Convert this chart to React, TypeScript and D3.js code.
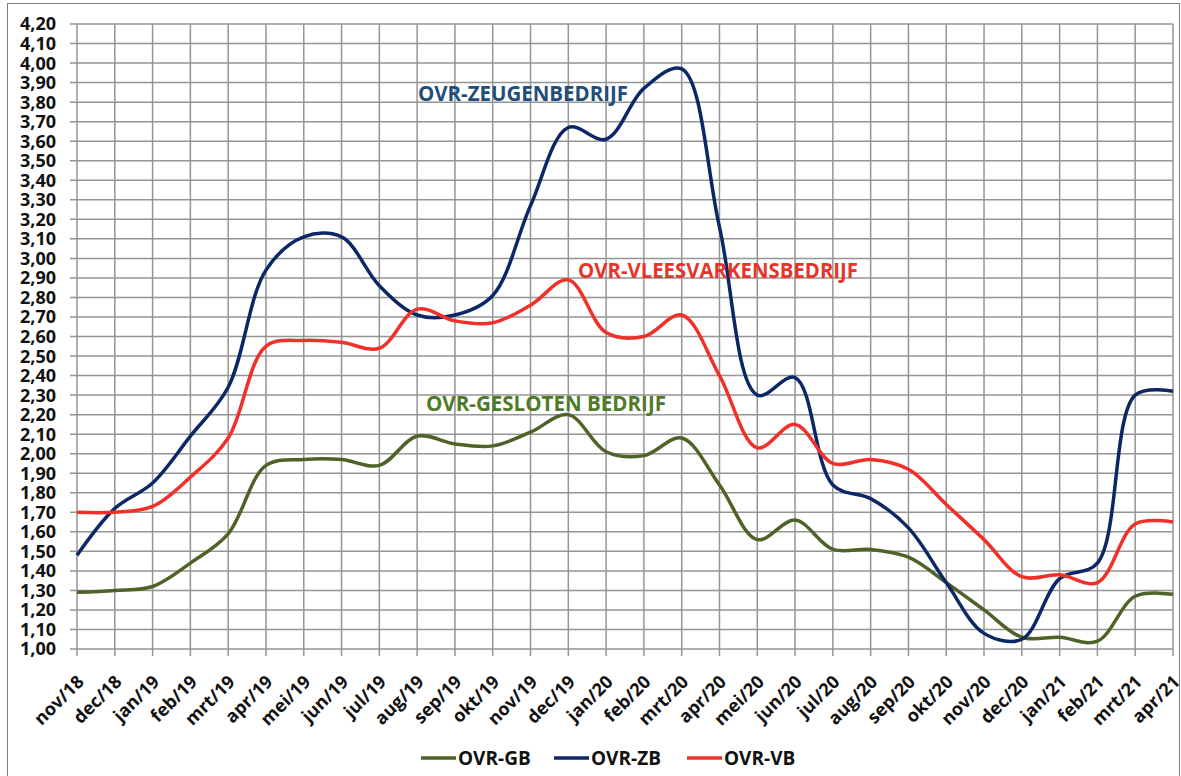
import React from 'react'
import * as d3 from 'd3'

const MONTHS = [
  'nov/18', 'dec/18', 'jan/19', 'feb/19', 'mrt/19', 'apr/19', 'mei/19', 'jun/19', 'jul/19', 'aug/19',
  'sep/19', 'okt/19', 'nov/19', 'dec/19', 'jan/20', 'feb/20', 'mrt/20', 'apr/20', 'mei/20', 'jun/20',
  'jul/20', 'aug/20', 'sep/20', 'okt/20', 'nov/20', 'dec/20', 'jan/21', 'feb/21', 'mrt/21', 'apr/21',
]

const OVR_GB = [
  1.29, 1.30, 1.32, 1.44, 1.59, 1.94, 1.97, 1.97, 1.94, 2.09,
  2.05, 2.04, 2.11, 2.20, 2.01, 1.99, 2.08, 1.84, 1.56, 1.66,
  1.51, 1.51, 1.47, 1.34, 1.20, 1.06, 1.06, 1.04, 1.27, 1.28,
]

const OVR_ZB = [
  1.48, 1.72, 1.85, 2.09, 2.34, 2.94, 3.11, 3.11, 2.86, 2.71,
  2.71, 2.81, 3.27, 3.67, 3.61, 3.87, 3.97, 3.16, 2.30, 2.39,
  1.84, 1.77, 1.62, 1.34, 1.08, 1.05, 1.36, 1.44, 2.30, 2.32,
]

const OVR_VB = [
  1.70, 1.70, 1.73, 1.88, 2.08, 2.55, 2.58, 2.57, 2.54, 2.74,
  2.68, 2.67, 2.76, 2.89, 2.62, 2.60, 2.71, 2.40, 2.03, 2.15,
  1.95, 1.97, 1.92, 1.74, 1.56, 1.37, 1.38, 1.34, 1.64, 1.65,
]

const Y_TICKS = d3.range(10, 43).map(v => v / 10)

const SERIES = [
  { name: 'OVR-GB', values: OVR_GB, color: '#4f6228' },
  { name: 'OVR-ZB', values: OVR_ZB, color: '#0c2766' },
  { name: 'OVR-VB', values: OVR_VB, color: '#f2302a' },
]

const W = 1181
const H = 776
const FONT = '"Open Sans", Lato, sans-serif'

export default function App() {
  const x = d3.scalePoint<string>().domain(MONTHS).range([77, 1173])
  const y = d3.scaleLinear().domain([1, 4.2]).range([649, 24])

  const line = d3.line<number>()
    .x((_, i) => x(MONTHS[i]) as number)
    .y(d => y(d))
    .curve(d3.curveCatmullRom.alpha(0.5))

  const fmt = (v: number) => v.toFixed(2).replace('.', ',')

  return (
    <svg width={W} height={H} style={{ position: 'absolute', left: 0, top: 0, background: '#fff' }}>
      <rect x={7.5} y={3.5} width={1172} height={790} fill="#fff" stroke="#7f7f7f" strokeWidth={1} />

      {/* horizontal grid */}
      {Y_TICKS.map(t => (
        <line key={t} x1={70} x2={1173} y1={y(t)} y2={y(t)} stroke="#959595" strokeWidth={1.5} />
      ))}
      {/* vertical grid */}
      {MONTHS.map(m => (
        <line key={m} x1={x(m)} x2={x(m)} y1={y(4.2)} y2={656} stroke="#959595" strokeWidth={1.5} />
      ))}

      {/* y labels */}
      {Y_TICKS.map(t => (
        <text key={t} x={56} y={y(t)} dy="0.36em" textAnchor="end" fontFamily={FONT}
          fontWeight="bold" fontSize={18} fill="#111">
          {fmt(t)}
        </text>
      ))}

      {/* x labels */}
      {MONTHS.map(m => (
        <text key={m} transform={`translate(${(x(m) as number) - 1},${674}) rotate(-45)`}
          textAnchor="end" dy="0.7em" fontFamily={FONT} fontWeight="bold" fontSize={18} fill="#111">
          {m}
        </text>
      ))}

      {/* series */}
      {SERIES.map(s => (
        <path key={s.name} d={line(s.values) ?? ''} fill="none" stroke={s.color} strokeWidth={3.5}
          strokeLinejoin="round" />
      ))}

      {/* annotations */}
      <text x={418} y={101} fontFamily={FONT} fontWeight="bold" fontSize={21} fill="#1f4e79"
        textLength={210} lengthAdjust="spacingAndGlyphs">OVR-ZEUGENBEDRIJF</text>
      <text x={578} y={278} fontFamily={FONT} fontWeight="bold" fontSize={21} fill="#e8332a"
        textLength={280} lengthAdjust="spacingAndGlyphs">OVR-VLEESVARKENSBEDRIJF</text>
      <text x={426} y={411} fontFamily={FONT} fontWeight="bold" fontSize={21} fill="#4f7a28"
        textLength={240} lengthAdjust="spacingAndGlyphs">OVR-GESLOTEN BEDRIJF</text>

      {/* legend */}
      {SERIES.map((s, i) => {
        const lx = 421 + i * 133
        return (
          <g key={s.name}>
            <line x1={lx} x2={lx + 35} y1={758} y2={758} stroke={s.color} strokeWidth={3.5} />
            <text x={lx + 37} y={758} dy="0.36em" fontFamily={FONT} fontWeight="bold" fontSize={19} fill="#111">
              {s.name}
            </text>
          </g>
        )
      })}
    </svg>
  )
}
